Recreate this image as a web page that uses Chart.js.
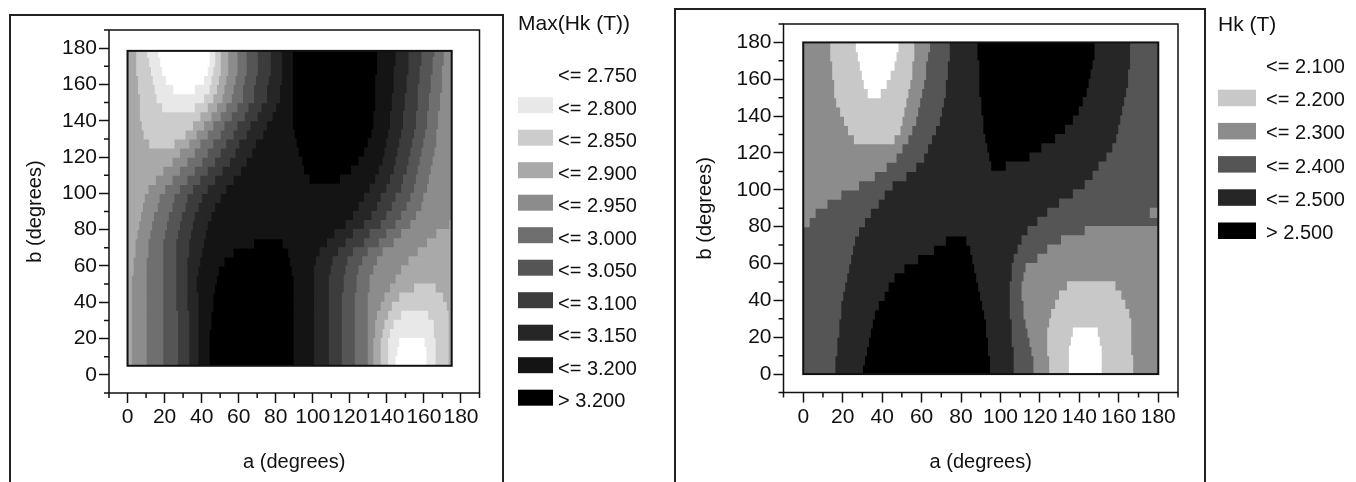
<!DOCTYPE html>
<html>
<head>
<meta charset="utf-8">
<script src="https://cdn.jsdelivr.net/npm/chart.js@4.4.1/dist/chart.umd.min.js"></script>
<style>
  html, body { margin: 0; padding: 0; background: #fff; }
  body { width: 1356px; height: 482px; position: relative; overflow: hidden; }
  .frame { position: absolute; box-sizing: border-box; height: 600px; border: 2px solid #222; border-bottom: none; }
  canvas { position: absolute; top: 0; }
</style>
</head>
<body>
<div class="frame" style="left:9px; top:14px; width:495px;"></div>
<div class="frame" style="left:674px; top:8px; width:532px;"></div>
<canvas id="left" width="680" height="482" style="left:0"></canvas>
<canvas id="right" width="676" height="482" style="left:680px"></canvas>
<script>
const FONT = '"Liberation Sans", Arial, sans-serif';

// ---- left plot: Max(Hk (T)) ----
const leftLabels = ['<= 2.750', '<= 2.800', '<= 2.850', '<= 2.900', '<= 2.950', '<= 3.000',
  '<= 3.050', '<= 3.100', '<= 3.150', '<= 3.200', '> 3.200'];
const leftColors = ['#ffffff', '#e8e8e8', '#cccccc', '#a9a9a9', '#8c8c8c', '#6f6f6f',
  '#555555', '#3c3c3c', '#262626', '#141414', '#000000'];
const leftARange = [0, 175];
const leftBRange = [5, 178.5];
// row centres (b); each row lists [level, a where that level starts], left to right
const leftRowB = [177.5, 172.5, 167.5, 162.5, 157.5, 152.5, 147.5, 142.5, 137.5, 132.5, 127.5, 122.5,
  117.5, 112.5, 107.5, 102.5, 97.5, 92.5, 87.5, 82.5, 77.5, 72.5, 67.5, 62.5, 57.5, 52.5, 47.5, 42.5,
  37.5, 32.5, 27.5, 22.5, 17.5, 12.5, 7.5];
const leftRows = [
  [[3,0],[2,5],[1,11],[0,17],[1,44],[2,47],[3,50],[4,54],[5,59],[6,64],[7,70],[8,77],[9,83],[10,89],[9,135],[8,145],[7,152],[6,159],[5,166],[4,171]],
  [[3,0],[2,5],[1,12],[0,18],[1,44],[2,47],[3,50],[4,54],[5,59],[6,64],[7,70],[8,77],[9,83],[10,89],[9,135],[8,145],[7,152],[6,159],[5,165],[4,171]],
  [[3,0],[2,5],[1,13],[0,19],[1,43],[2,46],[3,50],[4,54],[5,59],[6,64],[7,70],[8,77],[9,83],[10,89],[9,135],[8,144],[7,152],[6,158],[5,165],[4,170]],
  [[3,0],[2,6],[1,14],[0,21],[1,41],[2,45],[3,49],[4,53],[5,58],[6,63],[7,69],[8,76],[9,83],[10,89],[9,134],[8,144],[7,151],[6,158],[5,164],[4,170]],
  [[3,0],[2,6],[1,15],[0,25],[1,36],[2,44],[3,48],[4,52],[5,57],[6,62],[7,68],[8,75],[9,82],[10,89],[9,134],[8,144],[7,151],[6,157],[5,164],[4,170]],
  [[3,0],[2,7],[1,16],[2,41],[3,46],[4,51],[5,56],[6,62],[7,68],[8,75],[9,82],[10,89],[9,134],[8,143],[7,150],[6,157],[5,163],[4,169]],
  [[3,0],[2,7],[1,19],[2,36],[3,43],[4,48],[5,53],[6,59],[7,65],[8,72],[9,80],[10,89],[9,134],[8,143],[7,150],[6,157],[5,163],[4,169]],
  [[3,0],[2,7],[3,39],[4,45],[5,50],[6,56],[7,63],[8,70],[9,78],[10,89],[9,133],[8,142],[7,149],[6,156],[5,162],[4,168]],
  [[3,0],[2,8],[3,35],[4,41],[5,46],[6,52],[7,59],[8,66],[9,75],[10,89],[9,133],[8,142],[7,149],[6,156],[5,162],[4,168]],
  [[3,0],[2,9],[3,31],[4,37],[5,43],[6,50],[7,57],[8,64],[9,73],[10,90],[9,132],[8,141],[7,148],[6,155],[5,161],[4,167]],
  [[3,0],[2,12],[3,25],[4,33],[5,39],[6,46],[7,53],[8,60],[9,69],[10,91],[9,130],[8,140],[7,147],[6,154],[5,160],[4,167]],
  [[3,0],[4,28],[5,36],[6,43],[7,50],[8,58],[9,67],[10,92],[9,128],[8,139],[7,146],[6,153],[5,159],[4,166]],
  [[3,0],[4,24],[5,32],[6,40],[7,47],[8,55],[9,64],[10,94],[9,125],[8,138],[7,145],[6,152],[5,158],[4,165]],
  [[3,0],[4,19],[5,28],[6,36],[7,43],[8,51],[9,61],[10,95],[9,121],[8,136],[7,144],[6,151],[5,157],[4,164]],
  [[3,0],[4,15],[5,24],[6,32],[7,39],[8,47],[9,57],[10,98],[9,115],[8,134],[7,142],[6,149],[5,156],[4,163]],
  [[3,0],[4,11],[5,20],[6,28],[7,35],[8,43],[9,53],[8,131],[7,140],[6,148],[5,155],[4,162]],
  [[3,0],[4,9],[5,17],[6,25],[7,32],[8,40],[9,50],[8,128],[7,137],[6,145],[5,153],[4,160]],
  [[3,0],[4,8],[5,16],[6,24],[7,31],[8,38],[9,47],[8,125],[7,135],[6,143],[5,151],[4,159]],
  [[3,0],[4,7],[5,14],[6,22],[7,29],[8,36],[9,45],[8,122],[7,132],[6,140],[5,148],[4,156]],
  [[3,0],[4,6],[5,13],[6,21],[7,28],[8,35],[9,43],[8,118],[7,128],[6,137],[5,145],[4,153],[3,174]],
  [[3,0],[4,5],[5,12],[6,20],[7,27],[8,34],[9,42],[8,112],[7,122],[6,131],[5,140],[4,148],[3,167]],
  [[3,0],[4,4],[5,11],[6,19],[7,26],[8,33],[9,41],[10,68],[9,84],[8,108],[7,118],[6,128],[5,136],[4,144],[3,162]],
  [[3,0],[4,4],[5,11],[6,19],[7,26],[8,33],[9,40],[10,57],[9,87],[8,104],[7,114],[6,122],[5,130],[4,138],[3,157]],
  [[3,0],[4,3],[5,10],[6,19],[7,26],[8,32],[9,39],[10,52],[9,88],[8,102],[7,111],[6,119],[5,127],[4,135],[3,152]],
  [[3,0],[4,3],[5,10],[6,19],[7,26],[8,32],[9,38],[10,49],[9,89],[8,101],[7,110],[6,118],[5,125],[4,133],[3,148]],
  [[3,0],[4,2],[5,10],[6,19],[7,26],[8,32],[9,37],[10,48],[9,90],[8,101],[7,109],[6,117],[5,124],[4,131],[3,145]],
  [[3,0],[4,2],[5,10],[6,19],[7,26],[8,32],[9,37],[10,47],[9,90],[8,101],[7,109],[6,117],[5,124],[4,131],[3,142],[2,155],[3,166]],
  [[3,0],[4,2],[5,10],[6,19],[7,26],[8,32],[9,38],[10,46],[9,90],[8,101],[7,109],[6,116],[5,123],[4,130],[3,139],[2,147],[3,170]],
  [[3,0],[4,2],[5,10],[6,19],[7,26],[8,32],[9,38],[10,46],[9,90],[8,101],[7,109],[6,116],[5,123],[4,130],[3,137],[2,143],[3,172]],
  [[3,0],[4,2],[5,10],[6,19],[7,27],[8,33],[9,38],[10,45],[9,90],[8,101],[7,109],[6,116],[5,123],[4,130],[3,135],[2,141],[1,148],[2,162],[3,173]],
  [[3,0],[4,2],[5,10],[6,19],[7,27],[8,33],[9,38],[10,45],[9,90],[8,101],[7,109],[6,116],[5,123],[4,130],[3,134],[2,139],[1,144],[2,165],[3,173]],
  [[3,0],[4,2],[5,10],[6,19],[7,27],[8,33],[9,38],[10,44],[9,90],[8,101],[7,109],[6,116],[5,123],[4,130],[3,134],[2,138],[1,142],[2,165],[3,173]],
  [[3,0],[4,2],[5,10],[6,19],[7,27],[8,33],[9,38],[10,44],[9,90],[8,101],[7,109],[6,116],[5,123],[4,130],[3,133],[2,137],[1,141],[0,147],[1,160],[2,166],[3,173]],
  [[3,0],[4,2],[5,10],[6,19],[7,27],[8,33],[9,38],[10,44],[9,90],[8,101],[7,109],[6,116],[5,123],[4,130],[3,133],[2,137],[1,141],[0,146],[1,161],[2,166],[3,173]],
  [[3,0],[4,2],[5,10],[6,19],[7,27],[8,33],[9,38],[10,44],[9,90],[8,101],[7,109],[6,116],[5,123],[4,130],[3,133],[2,137],[1,141],[0,145],[1,161],[2,166],[3,173]]
];

// ---- right plot: Hk (T) ----
const rightLabels = ['<= 2.100', '<= 2.200', '<= 2.300', '<= 2.400', '<= 2.500', '> 2.500'];
const rightColors = ['#ffffff', '#c8c8c8', '#8c8c8c', '#555555', '#262626', '#000000'];
const rightARange = [0, 180];
const rightBRange = [0, 180];
const rightRowB = [177.5, 172.5, 167.5, 162.5, 157.5, 152.5, 147.5, 142.5, 137.5, 132.5, 127.5, 122.5,
  117.5, 112.5, 107.5, 102.5, 97.5, 92.5, 87.5, 82.5, 77.5, 72.5, 67.5, 62.5, 57.5, 52.5, 47.5, 42.5,
  37.5, 32.5, 27.5, 22.5, 17.5, 12.5, 7.5, 2.5];
const rightRows = [
  [[2,0],[1,14],[0,27],[1,48],[2,56],[3,64],[4,74],[5,88],[4,148],[3,166]],
  [[2,0],[1,14],[0,28],[1,47],[2,56],[3,63],[4,74],[5,88],[4,148],[3,166]],
  [[2,0],[1,15],[0,29],[1,46],[2,55],[3,62],[4,73],[5,89],[4,147],[3,166]],
  [[2,0],[1,15],[0,30],[1,44],[2,55],[3,62],[4,73],[5,89],[4,146],[3,165]],
  [[2,0],[1,16],[0,31],[1,42],[2,54],[3,61],[4,72],[5,89],[4,145],[3,165]],
  [[2,0],[1,16],[0,33],[1,39],[2,53],[3,60],[4,72],[5,89],[4,144],[3,164]],
  [[2,0],[1,17],[2,52],[3,59],[4,71],[5,90],[4,142],[3,163]],
  [[2,0],[1,19],[2,51],[3,58],[4,70],[5,90],[4,140],[3,162]],
  [[2,0],[1,21],[2,50],[3,57],[4,69],[5,91],[4,137],[3,161]],
  [[2,0],[1,23],[2,49],[3,55],[4,67],[5,91],[4,133],[3,160]],
  [[2,0],[1,26],[2,46],[3,53],[4,65],[5,92],[4,128],[3,159]],
  [[2,0],[3,50],[4,63],[5,93],[4,121],[3,157]],
  [[2,0],[3,47],[4,61],[5,94],[4,115],[3,154]],
  [[2,0],[3,42],[4,57],[5,95],[4,103],[3,150]],
  [[2,0],[3,36],[4,52],[3,147]],
  [[2,0],[3,28],[4,45],[3,143]],
  [[2,0],[3,19],[4,41],[3,137]],
  [[2,0],[3,12],[4,38],[3,130]],
  [[2,0],[3,6],[4,34],[3,124],[2,176]],
  [[2,0],[3,3],[4,31],[3,119]],
  [[3,0],[4,28],[3,114],[2,143]],
  [[3,0],[4,26],[5,72],[4,83],[3,111],[2,131]],
  [[3,0],[4,25],[5,66],[4,85],[3,109],[2,124]],
  [[3,0],[4,24],[5,58],[4,86],[3,107],[2,119]],
  [[3,0],[4,23],[5,51],[4,87],[3,106],[2,113]],
  [[3,0],[4,22],[5,46],[4,88],[3,106],[2,112]],
  [[3,0],[4,21],[5,43],[4,89],[3,105],[2,111],[1,134],[2,158]],
  [[3,0],[4,20],[5,41],[4,90],[3,105],[2,111],[1,130],[2,161]],
  [[3,0],[4,19],[5,38],[4,91],[3,105],[2,112],[1,128],[2,163]],
  [[3,0],[4,19],[5,36],[4,92],[3,105],[2,112],[1,126],[2,165]],
  [[3,0],[4,18],[5,35],[4,93],[3,106],[2,113],[1,125],[2,166]],
  [[3,0],[4,18],[5,34],[4,93],[3,106],[2,114],[1,124],[0,137],[1,149],[2,166]],
  [[3,0],[4,17],[5,33],[4,94],[3,106],[2,115],[1,124],[0,136],[1,150],[2,166]],
  [[3,0],[4,17],[5,32],[4,94],[3,107],[2,116],[1,124],[0,135],[1,151],[2,166]],
  [[3,0],[4,16],[5,31],[4,95],[3,107],[2,117],[1,125],[0,135],[1,151],[2,167]],
  [[3,0],[4,16],[5,30],[4,95],[3,107],[2,117],[1,125],[0,135],[1,151],[2,167]]
];

const isMajor = v => v % 20 === 0 && v >= 0 && v <= 180;

// one floating-bar dataset per contour level
function buildDatasets(rowB, rows, aMax, colors, labels) {
  const sets = colors.map((c, i) => ({
    label: labels[i], data: [], backgroundColor: c, borderWidth: 0,
    grouped: false, barPercentage: 1, categoryPercentage: 1, inflateAmount: 0.6
  }));
  rows.forEach((row, r) => {
    row.forEach(([level, a0], i) => {
      const a1 = i + 1 < row.length ? row[i + 1][1] : aMax;
      sets[level].data.push({ y: rowB[r], x: [a0, a1] });
    });
  });
  return sets;
}

function dataBox(chart, opts) {
  const { x, y } = chart.scales;
  const x0 = x.getPixelForValue(opts.aRange[0]), x1 = x.getPixelForValue(opts.aRange[1]);
  const y0 = y.getPixelForValue(opts.bRange[1]), y1 = y.getPixelForValue(opts.bRange[0]);
  return [x0, y0, x1 - x0, y1 - y0];
}

const contourFrame = {
  id: 'contourFrame',
  beforeDatasetsDraw(chart, args, opts) {
    const ctx = chart.ctx;
    ctx.save();
    ctx.beginPath();
    ctx.rect(...dataBox(chart, opts));
    ctx.clip();
  },
  afterDatasetsDraw(chart, args, opts) {
    const ctx = chart.ctx;
    ctx.restore();
    ctx.save();
    ctx.strokeStyle = '#111';
    ctx.lineWidth = 2;
    ctx.strokeRect(...dataBox(chart, opts));
    ctx.restore();
  },
  afterDraw(chart, args, opts) {
    const { x, y } = chart.scales;
    const area = chart.chartArea;
    const ctx = chart.ctx;
    ctx.save();
    ctx.strokeStyle = '#111';
    ctx.lineWidth = 1.5;
    ctx.strokeRect(area.left, area.top, area.right - area.left, area.bottom - area.top);
    // short minor ticks
    ctx.beginPath();
    x.ticks.forEach(t => {
      if (isMajor(t.value)) return;
      const px = x.getPixelForValue(t.value);
      ctx.moveTo(px, area.bottom);
      ctx.lineTo(px, area.bottom + 5);
    });
    y.ticks.forEach(t => {
      if (isMajor(t.value)) return;
      const py = y.getPixelForValue(t.value);
      ctx.moveTo(area.left - 5, py);
      ctx.lineTo(area.left, py);
    });
    ctx.stroke();
    // legend
    const lg = opts.legend;
    ctx.textAlign = 'left';
    ctx.textBaseline = 'alphabetic';
    ctx.fillStyle = '#111';
    ctx.font = '21px ' + FONT;
    ctx.fillText(lg.title, lg.x, lg.titleY);
    ctx.font = '20px ' + FONT;
    ctx.textBaseline = 'middle';
    lg.labels.forEach((text, i) => {
      const cy = lg.firstY + i * lg.step;
      ctx.fillStyle = lg.colors[i];
      ctx.fillRect(lg.x, cy - lg.boxUp, lg.boxW, lg.boxH);
      ctx.fillStyle = '#111';
      ctx.fillText(text, lg.textX, cy);
    });
    ctx.restore();
  }
};

function axis(title, titlePad, size) {
  return {
    type: 'linear', min: -10, max: 190, offset: false,
    ticks: {
      stepSize: 10, autoSkip: false, maxRotation: 0, minRotation: 0, padding: 2,
      color: '#111', font: { family: FONT, size: 21 },
      callback: v => isMajor(v) ? String(v) : ''
    },
    grid: {
      drawOnChartArea: false, offset: false, tickLength: 10, tickWidth: 1.5,
      tickColor: c => (c.tick && isMajor(c.tick.value)) ? '#111' : 'rgba(0,0,0,0)'
    },
    border: { display: false },
    title: { display: true, text: title, color: '#111', font: { family: FONT, size: 20 }, padding: titlePad },
    afterFit: s => { if (s.isHorizontal()) s.height = size; else s.width = size; }
  };
}

function makeChart(id, p) {
  return new Chart(document.getElementById(id), {
    type: 'bar',
    data: { datasets: buildDatasets(p.rowB, p.rows, p.aRange[1], p.colors, p.labels) },
    options: {
      indexAxis: 'y',
      responsive: false,
      animation: false,
      devicePixelRatio: 1,
      layout: { padding: p.padding },
      plugins: {
        legend: { display: false },
        tooltip: { enabled: false },
        contourFrame: { aRange: p.aRange, bRange: p.bRange, legend: p.legend }
      },
      scales: {
        x: axis('a (degrees)', { top: 0, bottom: 8 }, p.xHeight),
        y: axis('b (degrees)', { top: p.yTitlePad, bottom: 0 }, p.yWidth)
      }
    },
    plugins: [contourFrame]
  });
}

makeChart('left', {
  rowB: leftRowB, rows: leftRows, aRange: leftARange, bRange: leftBRange,
  colors: leftColors, labels: leftLabels,
  padding: { left: 0, top: 30, right: 200.5, bottom: 0 },
  xHeight: 89, yWidth: 109, yTitlePad: 23,
  legend: { title: 'Max(Hk (T))', labels: leftLabels, colors: leftColors,
    x: 518, titleY: 29.5, firstY: 76.7, step: 32.5, boxW: 35, boxH: 16, boxUp: 12, textX: 558 }
});

makeChart('right', {
  rowB: rightRowB, rows: rightRows, aRange: rightARange, bRange: rightBRange,
  colors: rightColors, labels: rightLabels,
  padding: { left: 0, top: 24, right: 178, bottom: 0 },
  xHeight: 89.5, yWidth: 103.5, yTitlePad: 13,
  legend: { title: 'Hk (T)', labels: rightLabels, colors: rightColors,
    x: 538, titleY: 31, firstY: 67.5, step: 33.2, boxW: 38, boxH: 16.5, boxUp: 11, textX: 586 }
});
</script>
</body>
</html>
